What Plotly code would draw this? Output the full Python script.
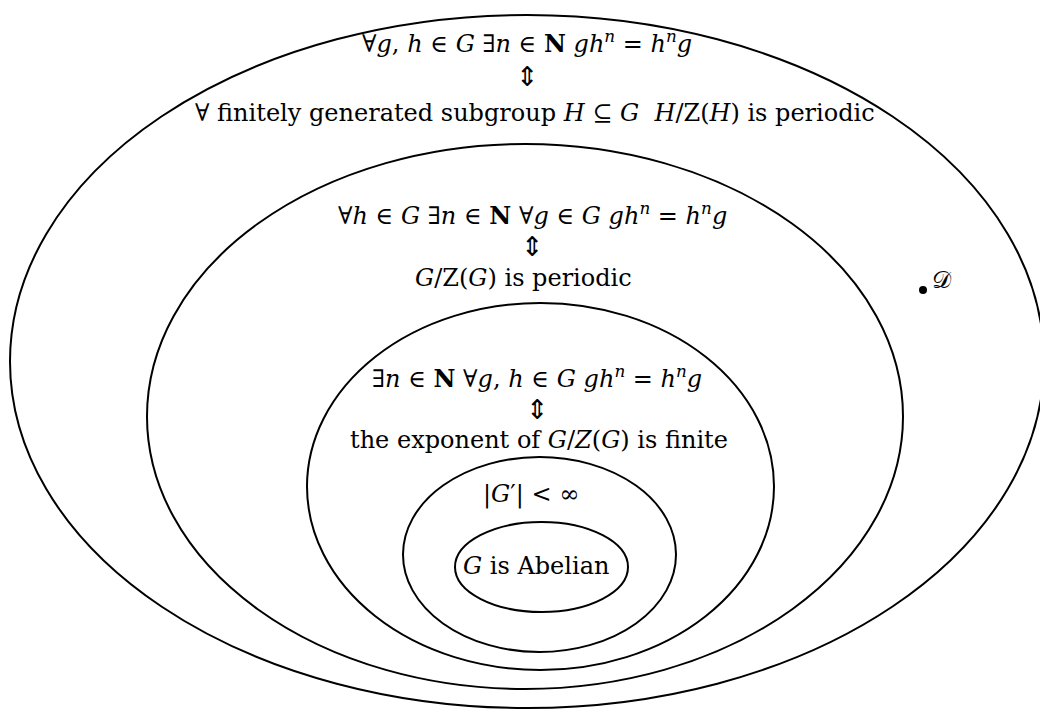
import plotly.graph_objects as go

# Nested regions (pixel-space ellipses: left, top, right, bottom)
region_names = ["outer", "second", "third", "fourth", "inner"]
region_left = [10, 147, 307, 403, 455]
region_top = [15, 144, 303, 457, 522]
region_right = [1044, 903, 774, 676, 628]
region_bottom = [708, 689, 670, 652, 612]

# Labels (text, x, y)
label_texts = [
    "∀<i>g</i>, <i>h</i> ∈ <i>G</i> ∃<i>n</i> ∈ <b>N</b> <i>gh</i><sup><i>n</i></sup> = <i>h</i><sup><i>n</i></sup><i>g</i>",
    "⇕",
    "∀ finitely generated subgroup <i>H</i> ⊆ <i>G</i>  <i>H</i>/Z(<i>H</i>) is periodic",
    "∀<i>h</i> ∈ <i>G</i> ∃<i>n</i> ∈ <b>N</b> ∀<i>g</i> ∈ <i>G</i> <i>gh</i><sup><i>n</i></sup> = <i>h</i><sup><i>n</i></sup><i>g</i>",
    "⇕",
    "<i>G</i>/Z(<i>G</i>) is periodic",
    "∃<i>n</i> ∈ <b>N</b> ∀<i>g</i>, <i>h</i> ∈ <i>G</i> <i>gh</i><sup><i>n</i></sup> = <i>h</i><sup><i>n</i></sup><i>g</i>",
    "⇕",
    "the exponent of <i>G</i>/<i>Z</i>(<i>G</i>) is finite",
    "|<i>G</i>′| < ∞",
    "<i>G</i> is Abelian",
]
label_x = [527, 527, 535, 532, 532, 523, 537, 537, 539, 531, 536]
label_y = [42, 76, 113, 214, 246, 278, 377, 409, 440, 494, 566]
label_kind = ["text", "arrow", "text", "text", "arrow", "text", "text", "arrow", "text", "text", "text"]

point_x = [923]
point_y = [290]
point_label = "𝒟"

fig = go.Figure()

for l, t, r, b in zip(region_left, region_top, region_right, region_bottom):
    fig.add_shape(type="circle", xref="x", yref="y", x0=l, y0=t, x1=r, y1=b,
                  line=dict(color="black", width=2), fillcolor="rgba(0,0,0,0)")

fig.add_trace(go.Scatter(x=point_x, y=point_y, mode="markers",
                         marker=dict(color="black", size=8), hoverinfo="skip",
                         showlegend=False))

serif = "DejaVu Serif, Liberation Serif, serif"
text_font = dict(family=serif, size=24, color="black")
arrow_font = dict(family="DejaVu Sans, sans-serif", size=27, color="black")
for txt, x, y, k in zip(label_texts, label_x, label_y, label_kind):
    fig.add_annotation(x=x, y=y, xref="x", yref="y", text=txt, showarrow=False,
                       font=arrow_font if k == "arrow" else text_font,
                       xanchor="center", yanchor="middle")

fig.add_annotation(x=point_x[0] + 7, y=point_y[0] - 10, xref="x", yref="y",
                   text=point_label, showarrow=False,
                   font=dict(family=serif, size=24, color="black"),
                   xanchor="left", yanchor="middle")

fig.update_layout(
    width=1040, height=709,
    margin=dict(l=0, r=0, t=0, b=0),
    paper_bgcolor="white", plot_bgcolor="white",
    xaxis=dict(range=[0, 1040], visible=False, fixedrange=True),
    yaxis=dict(range=[709, 0], visible=False, fixedrange=True),
    showlegend=False,
)

fig.write_html("out.html", config={"displayModeBar": False},
               post_script="document.body.style.margin='0';document.body.style.overflow='hidden';")
